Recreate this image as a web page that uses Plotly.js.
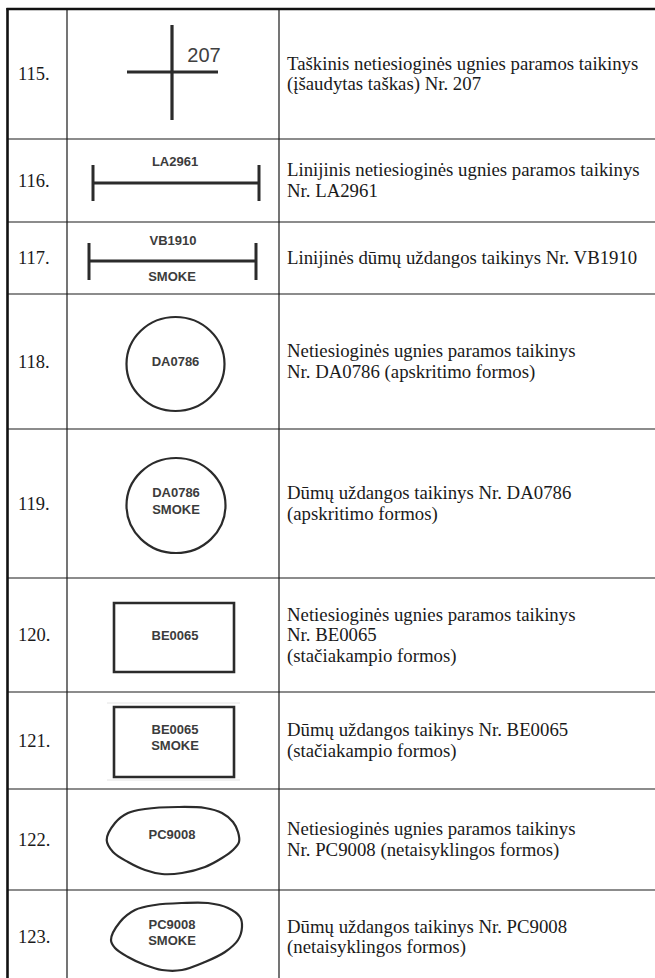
<!DOCTYPE html>
<html>
<head>
<meta charset="utf-8">
<script src="https://cdn.plot.ly/plotly-3.0.1.min.js"></script>
<style>
html,body{margin:0;padding:0;background:#fff;}
#chart{width:655px;height:978px;}
</style>
</head>
<body>
<div id="chart"></div>
<script>
// ---- data ----
const numbers = ['115.','116.','117.','118.','119.','120.','121.','122.','123.'];
const descriptions = [
  ['Taškinis netiesioginės ugnies paramos taikinys','(įšaudytas taškas) Nr. 207'],
  ['Linijinis netiesioginės ugnies paramos taikinys','Nr. LA2961'],
  ['Linijinės dūmų uždangos taikinys Nr. VB1910'],
  ['Netiesioginės ugnies paramos taikinys','Nr. DA0786 (apskritimo formos)'],
  ['Dūmų uždangos taikinys Nr. DA0786','(apskritimo formos)'],
  ['Netiesioginės ugnies paramos taikinys','Nr. BE0065','(stačiakampio formos)'],
  ['Dūmų uždangos taikinys Nr. BE0065','(stačiakampio formos)'],
  ['Netiesioginės ugnies paramos taikinys','Nr. PC9008 (netaisyklingos formos)'],
  ['Dūmų uždangos taikinys Nr. PC9008','(netaisyklingos formos)']
];
const symbolCodes = ['207','LA2961','VB1910','DA0786','DA0786','BE0065','BE0065','PC9008','PC9008'];
const symbolKinds = ['point','line','line','circle','circle','rect','rect','irregular','irregular'];
const smokeFlags = [false,false,true,false,true,false,true,false,true];

// ---- layout constants (page geometry) ----
const W = 655, H = 978;
const rowEdges = [9,139,222,294,429,578,692,789,890,984];
const colX = [7.5,67,279];
const LINE_H = 20.5;
const INK = '#2b2b2b';
const SYM_TXT = '#3c3c3c';

const traces = [];
const shapes = [];

function seg(xs, ys, width, color) {
  traces.push({type:'scatter', mode:'lines', x:xs, y:ys, hoverinfo:'skip',
    line:{color:color||INK, width:width}, showlegend:false});
}

// table grid
const hx = [], hy = [];
for (let i = 1; i < rowEdges.length - 1; i++) { hx.push(colX[0], W, null); hy.push(rowEdges[i], rowEdges[i], null); }
seg(hx, hy, 1.2, '#1a1a1a');
seg([colX[1], colX[1], null, colX[2], colX[2]], [rowEdges[0], H, null, rowEdges[0], H], 1.2, '#1a1a1a');
seg([colX[0], colX[0]], [rowEdges[0]-1, H], 2.6, '#111');
seg([colX[0]-1, W], [rowEdges[0], rowEdges[0]], 2.6, '#111');

// text: numbers and descriptions
const numX = [], numY = [], dX = [], dY = [], dT = [];
for (let i = 0; i < numbers.length; i++) {
  const c = (rowEdges[i] + rowEdges[i+1]) / 2 + 1.5;
  numX.push(18); numY.push(c);
  const lines = descriptions[i];
  lines.forEach((t, k) => {
    dX.push(287); dY.push(c + (k - (lines.length - 1) / 2) * LINE_H); dT.push(t);
  });
}
traces.push({type:'scatter', mode:'text', x:numX, y:numY, text:numbers, textposition:'middle right',
  hoverinfo:'skip', showlegend:false, textfont:{family:'Liberation Serif, Times New Roman, serif', size:18.5, color:'#1a1a1a'}});
traces.push({type:'scatter', mode:'text', x:dX, y:dY, text:dT, textposition:'middle right',
  hoverinfo:'skip', showlegend:false, textfont:{family:'Liberation Serif, Times New Roman, serif', size:18.8, color:'#1a1a1a'}});

// symbols
const stX = [], stY = [], stT = [];
function symText(x, y, t) { stX.push(x); stY.push(y); stT.push(t); }

symbolKinds.forEach((kind, i) => {
  const code = symbolCodes[i], smoke = smokeFlags[i];
  if (kind === 'point') {
    seg([172, 172, null, 127, 218], [25, 120, null, 72, 72], 3.2);
    traces.push({type:'scatter', mode:'text', x:[204], y:[57], text:[code], textposition:'middle center',
      hoverinfo:'skip', showlegend:false, textfont:{family:'Liberation Sans, Arial, sans-serif', size:20, color:'#404040'}});
  } else if (kind === 'line') {
    if (!smoke) {
      seg([93, 93, null, 259, 259, null, 93, 259], [165, 201, null, 165, 201, null, 183, 183], 3);
      symText(175, 163, code);
    } else {
      seg([89, 89, null, 256, 256, null, 89, 256], [243, 280, null, 243, 280, null, 261, 261], 3);
      symText(173, 242, code);
      symText(172, 278, 'SMOKE');
    }
  } else if (kind === 'circle') {
    const cx = smoke ? 176 : 175.5, cy = smoke ? 505.5 : 364, rx = smoke ? 49.5 : 49, ry = smoke ? 47.5 : 47;
    shapes.push({type:'circle', xref:'x', yref:'y', x0:cx-rx, x1:cx+rx, y0:cy-ry, y1:cy+ry,
      line:{color:INK, width:2.2}});
    if (smoke) { symText(cx, cy - 11.5, code); symText(cx, cy + 5.5, 'SMOKE'); }
    else symText(cx, cy - 1, code);
  } else if (kind === 'rect') {
    const y0 = smoke ? 707 : 603, y1 = smoke ? 777 : 672;
    if (smoke) {
      seg([107, 240, null, 107, 240], [703, 703, null, 780, 780], 1, '#e4e4e4');
    }
    shapes.push({type:'rect', xref:'x', yref:'y', x0:114, x1:234, y0:y0, y1:y1, line:{color:INK, width:2.6}});
    if (smoke) { symText(175, 731, code); symText(175, 747, 'SMOKE'); }
    else symText(175, 637, code);
  } else if (kind === 'irregular') {
    let px, py;
    if (!smoke) {
      px = [178,205,222,233,238,239,233,222,205,182,162,145,128,113,106.7,115,128,145,178];
      py = [807,808,813,822,832,842,850,858,867,873,874,870,862,852,840,823,813,809,807];
      symText(172, 836, code);
    } else {
      px = [182,208,228,240,242,238,225,205,182,162,145,128,115,111,120,135,155,182];
      py = [903,903,908,917,927,940,952,962,970,970,965,957,948,940,922,910,905,903];
      symText(172, 926, code); symText(172, 942, 'SMOKE');
    }
    traces.push({type:'scatter', mode:'lines', x:px, y:py, hoverinfo:'skip', showlegend:false,
      line:{color:INK, width:2.2, shape:'spline', smoothing:1}});
  }
});
traces.push({type:'scatter', mode:'text', x:stX, y:stY, text:stT, textposition:'middle center',
  hoverinfo:'skip', showlegend:false,
  textfont:{family:'Liberation Sans, Arial, sans-serif', size:13, weight:'bold', color:SYM_TXT}});

const layout = {
  width: W, height: H,
  margin:{l:0, r:0, t:0, b:0, pad:0},
  paper_bgcolor:'#fff', plot_bgcolor:'#fff',
  showlegend:false,
  xaxis:{range:[0, W], visible:false, fixedrange:true},
  yaxis:{range:[H, 0], visible:false, fixedrange:true},
  shapes: shapes
};
Plotly.newPlot('chart', traces, layout, {staticPlot:true, displayModeBar:false});
</script>
</body>
</html>
